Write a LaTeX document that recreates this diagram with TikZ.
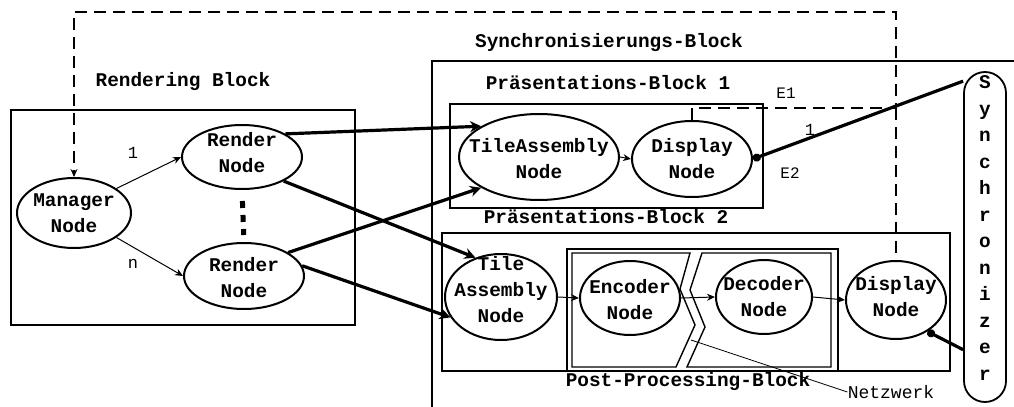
\documentclass[tikz,border=0pt]{standalone}
\usepackage{fontspec}
\usetikzlibrary{arrows.meta,shapes.geometric}
\newfontfamily\courierfont{Liberation Mono}
\newcommand\titelschrift{\courierfont\bfseries\fontsize{9.7}{13}\selectfont}
\newcommand\zahlschrift{\courierfont\fontsize{8.5}{10}\selectfont}
\tikzset{
  knoten/.style 2 args={draw, ellipse, line width=1pt, inner sep=0pt, minimum width=#1pt, minimum height=#2pt},
  knotentext/.style={font=\titelschrift, align=center, inner sep=0pt},
  titel/.style={font=\titelschrift, inner sep=0pt},
  zahl/.style={font=\zahlschrift, inner sep=0pt},
  rahmen/.style={line width=0.7pt},
  duenn/.style={line width=0.5pt, -{Stealth[length=4pt,width=3.5pt]}},
  dick/.style={line width=1.6pt, -{Stealth[length=5.5pt,width=5.5pt]}},
  anschluss/.style={line width=1.6pt, {Circle[length=4pt]}-},
  strich/.style={line width=0.9pt, dash pattern=on 6pt off 3.5pt},
  punkte/.style={line width=2.5pt, dash pattern=on 3.5pt off 3.5pt}
}
\begin{document}
\begin{tikzpicture}[x=0.5pt, y=-0.5pt]
  \useasboundingbox (0,0) rectangle (1014,407);
  %%%%% Rahmen %%%%%
  \draw[rahmen] (11,110) rectangle (355,325);
  \draw[rahmen] (432,407) |- (1014,61);
  \draw[rahmen] (450,104) rectangle (763,208);
  \draw[rahmen] (442,233) rectangle (950,371);
  \draw[rahmen] (567,249) rectangle (838,371);
  \draw[rahmen] (572,253) -- (690,253) -- (680,289) -- (695,325) -- (676,367) -- (572,367) -- cycle;
  \draw[rahmen] (702,253) -- (831,253) -- (831,367) -- (687,367) -- (705,327) -- (690,290) -- cycle;

  %%%%% Titel %%%%%
  \node[titel] (renderingtitel) at (183,82) {Rendering Block};
  \node[titel] (synctitel) at (609,43) {Synchronisierungs-Block};
  \node[titel] (praes1titel) at (608,83) {Präsentations-Block 1};
  \node[titel] (praes2titel) at (606,217) {Präsentations-Block 2};
  \node[titel] (posttitel) at (688,382) {Post-Processing-Block};

  %%%%% Knoten %%%%%
  \node[knoten={57}{35}, label={[knotentext]center:Manager\\Node}] (manager) at (74,213) {};
  \node[knoten={60}{32}, label={[knotentext, yshift=2pt]center:Render\\Node}] (render1) at (242,157) {};
  \node[knoten={60}{33}, label={[knotentext, yshift=-1pt]center:Render\\Node}] (render2) at (244,276) {};
  \node[knoten={80}{43}, label={[knotentext, yshift=-1pt]center:TileAssembly\\Node}] (tile1) at (539,157) {};
  \node[knoten={60}{38}, label={[knotentext]center:Display\\Node}] (display1) at (692,159) {};
  \node[knoten={56}{43}, label={[knotentext, yshift=3.5pt]center:Tile\\Assembly\\Node}] (tile2) at (501,297) {};
  \node[knoten={50}{37}, label={[knotentext, yshift=-1pt]center:Encoder\\Node}] (encoder) at (630,298) {};
  \node[knoten={48}{37}, label={[knotentext]center:Decoder\\Node}] (decoder) at (764,297) {};
  \node[knoten={50}{39}, label={[knotentext, yshift=1.5pt]center:Display\\Node}] (display2) at (896,300) {};
  \node[draw, line width=0.9pt, rounded corners=10.5pt, minimum width=21pt, minimum height=165pt, inner sep=0pt,
        label={[knotentext, font={\courierfont\bfseries\fontsize{9.7}{13.25}\selectfont}, yshift=4.5pt]center:S\\y\\n\\c\\h\\r\\o\\n\\i\\z\\e\\r}] (synchronizer) at (985,237) {};

  %%%%% Beschriftungen %%%%%
  \node[zahl] (eins) at (133,153) {1};
  \node[zahl] (enn) at (133,264) {n};
  \node[zahl, font={\courierfont\fontsize{8}{10}\selectfont}] (eeins) at (786,93) {E1};
  \node[zahl, font={\courierfont\fontsize{8}{10}\selectfont}] (ezwei) at (790,173) {E2};
  \node[zahl] (syncnr) at (810,130) {1};
  \node[zahl, font={\courierfont\fontsize{9}{10}\selectfont}] (netz) at (891,392) {Netzwerk};

  %%%%% Verbindungen %%%%%
  \draw[duenn] (manager.30) -- (render1.west);
  \draw[duenn] (manager.-30) -- (render2.west);
  \draw[punkte, shorten <=5.5pt, shorten >=3.5pt] (render1.south) -- (render2.north);

  \draw[dick] (render1.28) -- (tile1.152);
  \draw[dick] (render1.-30) -- (tile2.123);
  \draw[dick] (render2.28) -- (tile1.208);
  \draw[dick] (render2.10) -- (tile2.202);

  \draw[duenn] (tile1.east) -- (display1.west);
  \draw[duenn] (tile2.east) -- (encoder.west);
  \draw[duenn] (encoder.east) -- (decoder.west);
  \draw[duenn] (decoder.east) -- (display2.west);

  \draw[anschluss] (display1.east) -- (synchronizer.98.3);
  \draw[anschluss] (display2.-45) -- (synchronizer.259.7);

  \coordinate (eknick) at (896,108);
  \coordinate (obenrechts) at (896,12);
  \draw[strich, -{Stealth[length=4pt,width=3.5pt]}] (display1.north) |- (eknick) -- (obenrechts) -| (manager.north);
  \draw[strich] (eknick) -- (display2.north);

  \coordinate (bruch) at (691,340);
  \draw[line width=0.4pt] (bruch) -- (netz.west);
\end{tikzpicture}
\end{document}
